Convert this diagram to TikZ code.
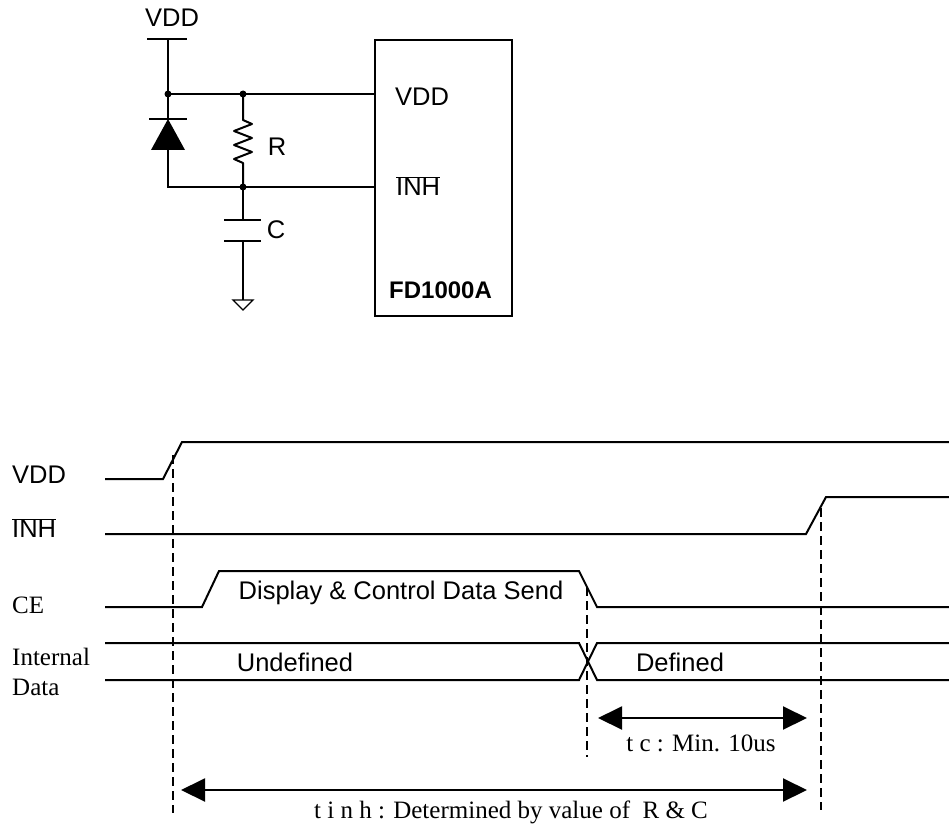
\documentclass[tikz,border=0pt]{standalone}
\usepackage{fontspec}
\setmainfont{Liberation Serif}
\setsansfont{Liberation Sans}
\usetikzlibrary{arrows.meta}
\tikzset{
  wire/.style={line width=2pt},
  guide/.style={line width=1.4pt, dash pattern=on 9pt off 5pt},
  span/.style={line width=2pt, {Triangle[length=24pt,width=23pt]}-{Triangle[length=24pt,width=23pt]}},
  lbl/.style={font=\fontsize{25.5}{29}\selectfont\sffamily, inner sep=0pt},
  slbl/.style={font=\fontsize{25}{30}\selectfont, inner sep=0pt},
  jdot/.style={circle, fill, inner sep=0pt, minimum size=7pt}
}
\begin{document}
\begin{tikzpicture}[x=1pt,y=-1pt]
\useasboundingbox (0,0) rectangle (949,829);
% circuit
\node[lbl] (vddsrc) at (172,18) {VDD};
\draw[wire] (147,39) -- (187,39);
\coordinate (vddbar) at (168,39);
\node[jdot] (jA) at (168,94) {};
\node[jdot] (jB) at (243,94) {};
\node[jdot] (jC) at (243,187) {};
\coordinate (dk) at (168,119);
\coordinate (da) at (168,150);
\coordinate (dlow) at (168,187);
\node[draw, wire, anchor=north west, minimum width=137pt, minimum height=276pt, inner sep=0pt] (chip) at (374,39) {};
\draw[wire] (vddbar) -- (jA.center) -- (dk);
\draw[wire] (jA.center) -- (jA -| chip.west);
\draw[wire] (da) -- (dlow) -- (dlow -| chip.west);
% diode
\draw[wire] (149,119) -- (187,119);
\fill (dk) -- (151,150) -- (185,150) -- cycle;
% resistor
\draw[wire, line join=round] (jB.center) -- (243,120) -- (252,124) -- (234,131) -- (252,138)
  -- (234,145) -- (252,152) -- (234,159) -- (243,163) -- (jC.center);
% capacitor and ground
\coordinate (cp1) at (243,220);
\coordinate (cp2) at (243,241);
\coordinate (gnd) at (243,300);
\draw[wire] (jC.center) -- (cp1);
\draw[wire] (224,220) -- (261,220);
\draw[wire] (224,241) -- (261,241);
\draw[wire] (cp2) -- (gnd);
\draw[line width=1.3pt] (233,300) -- (253,300) -- (243,310) -- cycle;
\node[lbl] (rlbl) at (277,147) {R};
\node[lbl] (clbl) at (276,230) {C};
\node[lbl, anchor=west] (pvdd) at (395,97) {VDD};
\node[lbl, anchor=west] (pinh) at (396,186) {$\overline{\mbox{INH}}$};
\node[lbl, anchor=west, font=\fontsize{24}{28}\selectfont\sffamily\bfseries] (chipname) at (389,290) {FD1000A};
% timing
\node[lbl, anchor=west] (lvdd) at (12,475) {VDD};
\node[lbl, anchor=west] (linh) at (12,528) {$\overline{\mbox{INH}}$};
\node[slbl, anchor=west] (lce) at (12,605) {CE};
\node[slbl, anchor=west, align=left] (ldata) at (12,672) {Internal\\Data};
\draw[wire] (105,479) -- (163,479) -- (182,442) -- (949,442);
\draw[wire] (105,534) -- (806,534) -- (826,497) -- (949,497);
\draw[wire] (105,607) -- (202,607) -- (219,571) -- (579,571) -- (597,607) -- (949,607);
\draw[wire] (105,643) -- (579,643) -- (597,680) -- (949,680);
\draw[wire] (105,680) -- (579,680) -- (597,643) -- (949,643);
\node[lbl] (tsend) at (401,593) {Display \& Control Data Send};
\node[lbl] (tundef) at (295,662) {Undefined};
\node[lbl] (tdef) at (680,662) {Defined};
% guides
\coordinate (g1a) at (173,455);
\coordinate (g1b) at (173,813);
\coordinate (g2a) at (587,587);
\coordinate (g2b) at (587,757);
\coordinate (g3a) at (821,508);
\coordinate (g3b) at (821,810);
\draw[guide] (g1a) -- (g1b);
\draw[guide] (g2a) -- (g2b);
\draw[guide] (g3a) -- (g3b);
\coordinate (tcL) at (598,718);
\coordinate (tcR) at (807,718);
\coordinate (tinhL) at (181,790);
\coordinate (tinhR) at (807,790);
\draw[span] (tcL) -- (tcR);
\draw[span] (tinhL) -- (tinhR);
\node[slbl] (tclbl) at (701,743) {t c : Min. 10us};
\node[slbl] (tinhlbl) at (511,812) {t i n h : Determined by value of~ R \& C};
\end{tikzpicture}
\end{document}
